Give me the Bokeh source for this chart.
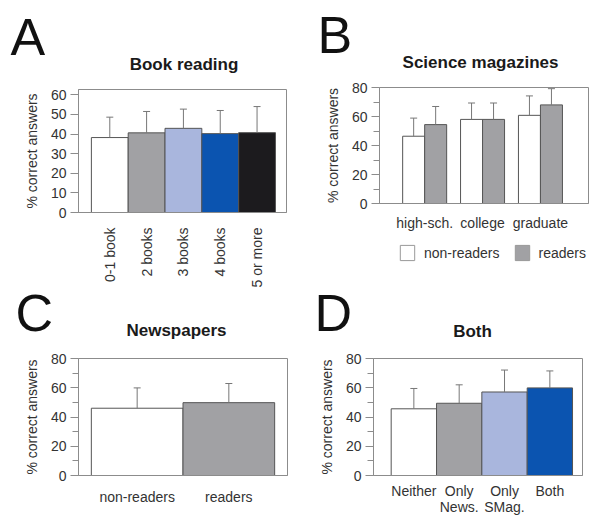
import math
from bokeh.plotting import figure
from bokeh.models import (Range1d, FixedTicker, Legend, LegendItem, Label,
                          ColumnDataSource)
from bokeh.layouts import column, row
from bokeh.embed import file_html
from bokeh.resources import INLINE

FONT = "Liberation Sans"
GRAY_LINE = "#8c8c8c"
TXT = "#333333"

# ---------------- data ----------------
# Panel A: Book reading
a_cats = ["0-1 book", "2 books", "3 books", "4 books", "5 or more"]
a_vals = [38.2, 40.6, 42.9, 40.2, 40.7]
a_upper = [48.6, 51.5, 52.7, 52.0, 54.0]
a_colors = ["#ffffff", "#a1a1a4", "#a9b6dd", "#0b54b0", "#1c1b1e"]

# Panel B: Science magazines
b_groups = ["high-sch.", "college", "graduate"]
b_series = ["non-readers", "readers"]
b_nonreaders = [46.4, 58.0, 60.8]
b_nonreaders_upper = [58.9, 69.3, 74.2]
b_readers = [54.4, 58.0, 68.0]
b_readers_upper = [66.9, 69.3, 79.2]
b_colors = ["#ffffff", "#a1a1a4"]

# Panel C: Newspapers
c_cats = ["non-readers", "readers"]
c_vals = [46.0, 49.8]
c_upper = [59.9, 62.9]
c_colors = ["#ffffff", "#a1a1a4"]

# Panel D: Both
d_cats = ["Neither", "Only\nNews.", "Only\nSMag.", "Both"]
d_vals = [45.6, 49.4, 57.1, 59.9]
d_upper = [59.5, 62.0, 72.1, 71.5]
d_colors = ["#ffffff", "#a1a1a4", "#a9b6dd", "#0b54b0"]


def blank_fig(w, h):
    p = figure(width=w, height=h, x_range=Range1d(0, 1), y_range=Range1d(0, 1),
               output_backend="svg", toolbar_location=None,
               x_axis_type=None, y_axis_type=None,
               min_border_left=0, min_border_right=0,
               min_border_top=0, min_border_bottom=0)
    p.outline_line_color = None
    p.xgrid.visible = False
    p.ygrid.visible = False
    p.background_fill_color = "white"
    p.border_fill_color = "white"
    return p


def header(w, h, letter, lx, ly, title, tx, ty):
    p = blank_fig(w, h)
    p.add_layout(Label(x=lx, y=ly, x_units="screen", y_units="screen",
                       text=letter, text_font=FONT, text_font_size="52px",
                       text_color="#111111", text_align="left",
                       text_baseline="middle"))
    p.add_layout(Label(x=tx, y=ty, x_units="screen", y_units="screen",
                       text=title, text_font=FONT, text_font_size="17px",
                       text_font_style="bold", text_color="#1a1a1a",
                       text_align="center", text_baseline="middle"))
    return p


def make_fig(w, h, left, right, top, bottom, x0, x1, ymax, yticks, yminor,
             labels, standoff):
    p = figure(width=w, height=h, x_range=Range1d(x0, x1),
               y_range=Range1d(0, ymax), output_backend="svg",
               toolbar_location=None, min_border_left=left,
               min_border_right=right, min_border_top=top,
               min_border_bottom=bottom)
    p.xgrid.visible = False
    p.ygrid.visible = False
    p.outline_line_color = GRAY_LINE
    p.outline_line_width = 1
    p.background_fill_color = "white"
    p.border_fill_color = "white"
    ticks = list(range(1, len(labels) + 1))
    p.xaxis.ticker = FixedTicker(ticks=ticks)
    p.xaxis.major_label_overrides = {t: lab for t, lab in zip(ticks, labels)}
    p.xaxis.major_tick_line_color = None
    p.xaxis.minor_tick_line_color = None
    p.xaxis.axis_line_color = GRAY_LINE
    p.xaxis.major_label_text_font = FONT
    p.xaxis.major_label_text_font_size = "14px"
    p.xaxis.major_label_text_color = TXT
    p.xaxis.major_label_standoff = standoff
    p.yaxis.ticker = FixedTicker(ticks=yticks, minor_ticks=yminor)
    p.yaxis.axis_line_color = GRAY_LINE
    p.yaxis.major_tick_line_color = GRAY_LINE
    p.yaxis.minor_tick_line_color = GRAY_LINE
    p.yaxis.major_tick_out = 8
    p.yaxis.major_tick_in = 0
    p.yaxis.minor_tick_out = 6
    p.yaxis.minor_tick_in = 0
    p.yaxis.major_label_text_font = FONT
    p.yaxis.major_label_text_font_size = "14px"
    p.yaxis.major_label_text_color = TXT
    p.yaxis.major_label_standoff = 4
    p.yaxis.axis_label = "% correct answers"
    p.yaxis.axis_label_text_font = FONT
    p.yaxis.axis_label_text_font_style = "normal"
    p.yaxis.axis_label_text_font_size = "14px"
    p.yaxis.axis_label_text_color = TXT
    p.yaxis.axis_label_standoff = 8
    return p


def bars(p, xs, vals, upper, colors, width):
    src = ColumnDataSource(dict(x=xs, top=vals, up=upper, color=colors))
    r = p.vbar(x="x", top="top", bottom=0, width=width, fill_color="color",
               line_color="#555555", line_width=1, source=src)
    p.segment(x0="x", y0="top", x1="x", y1="up", line_color="#777777",
              line_width=1, source=src)
    p.scatter(x="x", y="up", marker="dash", size=7, line_color="#777777",
              line_width=1, source=src)
    return r


# ---------------- headers (panel letters + titles) ----------------
hA = header(296, 75, "A", 10, 39, "Book reading", 183.5, 10.8)
hB = header(296, 75, "B", 21, 41, "Science magazines", 184, 13)
hC = header(296, 54, "C", 15, 32, "Newspapers", 176, 13.6)
hD = header(296, 54, "D", 18, 32, "Both", 176, 13)

# ---------------- panel A ----------------
pa = make_fig(296, 215, 78, 10, 14, 77, 0.15, 5.8, 62.7,
              [0, 10, 20, 30, 40, 50, 60], [], a_cats, 9)
pa.xaxis.major_label_orientation = math.pi / 2
xa = [i + 1 for i in range(len(a_cats))]
bars(pa, xa, a_vals, a_upper, a_colors, 1.0)

# ---------------- panel B ----------------
pb = make_fig(296, 158, 83, 4, 12, 22, 0.22, 3.83, 80,
              [0, 20, 40, 60, 80], [10, 30, 50, 70], b_groups, 5)
xb = [i + 1 for i in range(len(b_groups))]
bw = 0.38
bars(pb, [x - bw / 2 for x in xb], b_nonreaders, b_nonreaders_upper,
     [b_colors[0]] * len(xb), bw)
bars(pb, [x + bw / 2 for x in xb], b_readers, b_readers_upper,
     [b_colors[1]] * len(xb), bw)

# legend strip below panel B (hidden proxy renderers carry the legend glyphs)
lgB = blank_fig(296, 57)
r_non = lgB.vbar(x=xb, top=b_nonreaders, width=bw, fill_color=b_colors[0],
                 line_color="#999999", visible=False)
r_rd = lgB.vbar(x=xb, top=b_readers, width=bw, fill_color=b_colors[1],
                line_color="#999999", visible=False)
legend = Legend(items=[LegendItem(label=b_series[0], renderers=[r_non]),
                       LegendItem(label=b_series[1], renderers=[r_rd])],
                location=(19, 28), orientation="horizontal",
                glyph_width=18, glyph_height=19, label_height=19,
                label_standoff=8, spacing=13, padding=0, margin=0,
                border_line_color=None, background_fill_alpha=0,
                inactive_fill_alpha=0,
                label_text_font=FONT, label_text_font_size="14px",
                label_text_color=TXT)
lgB.add_layout(legend, "center")

# ---------------- panel C ----------------
pc = make_fig(296, 173, 78, 9, 14, 35, 0.36, 2.64, 80,
              [0, 20, 40, 60, 80], [10, 30, 50, 70], c_cats, 7)
xc = [i + 1 for i in range(len(c_cats))]
bars(pc, xc, c_vals, c_upper, c_colors, 1.0)

# ---------------- panel D ----------------
pd_ = make_fig(296, 173, 77, 10, 14, 35, 0.11, 4.72, 80,
               [0, 20, 40, 60, 80], [10, 30, 50, 70], d_cats, 1)
pd_.xaxis.major_label_text_line_height = 1.0
xd = [i + 1 for i in range(len(d_cats))]
bars(pd_, xd, d_vals, d_upper, d_colors, 1.0)

layout = column(
    row(hA, hB),
    row(pa, column(pb, lgB)),
    row(hC, hD),
    row(pc, pd_),
)
open("out.html", "w").write(file_html(layout, INLINE))
